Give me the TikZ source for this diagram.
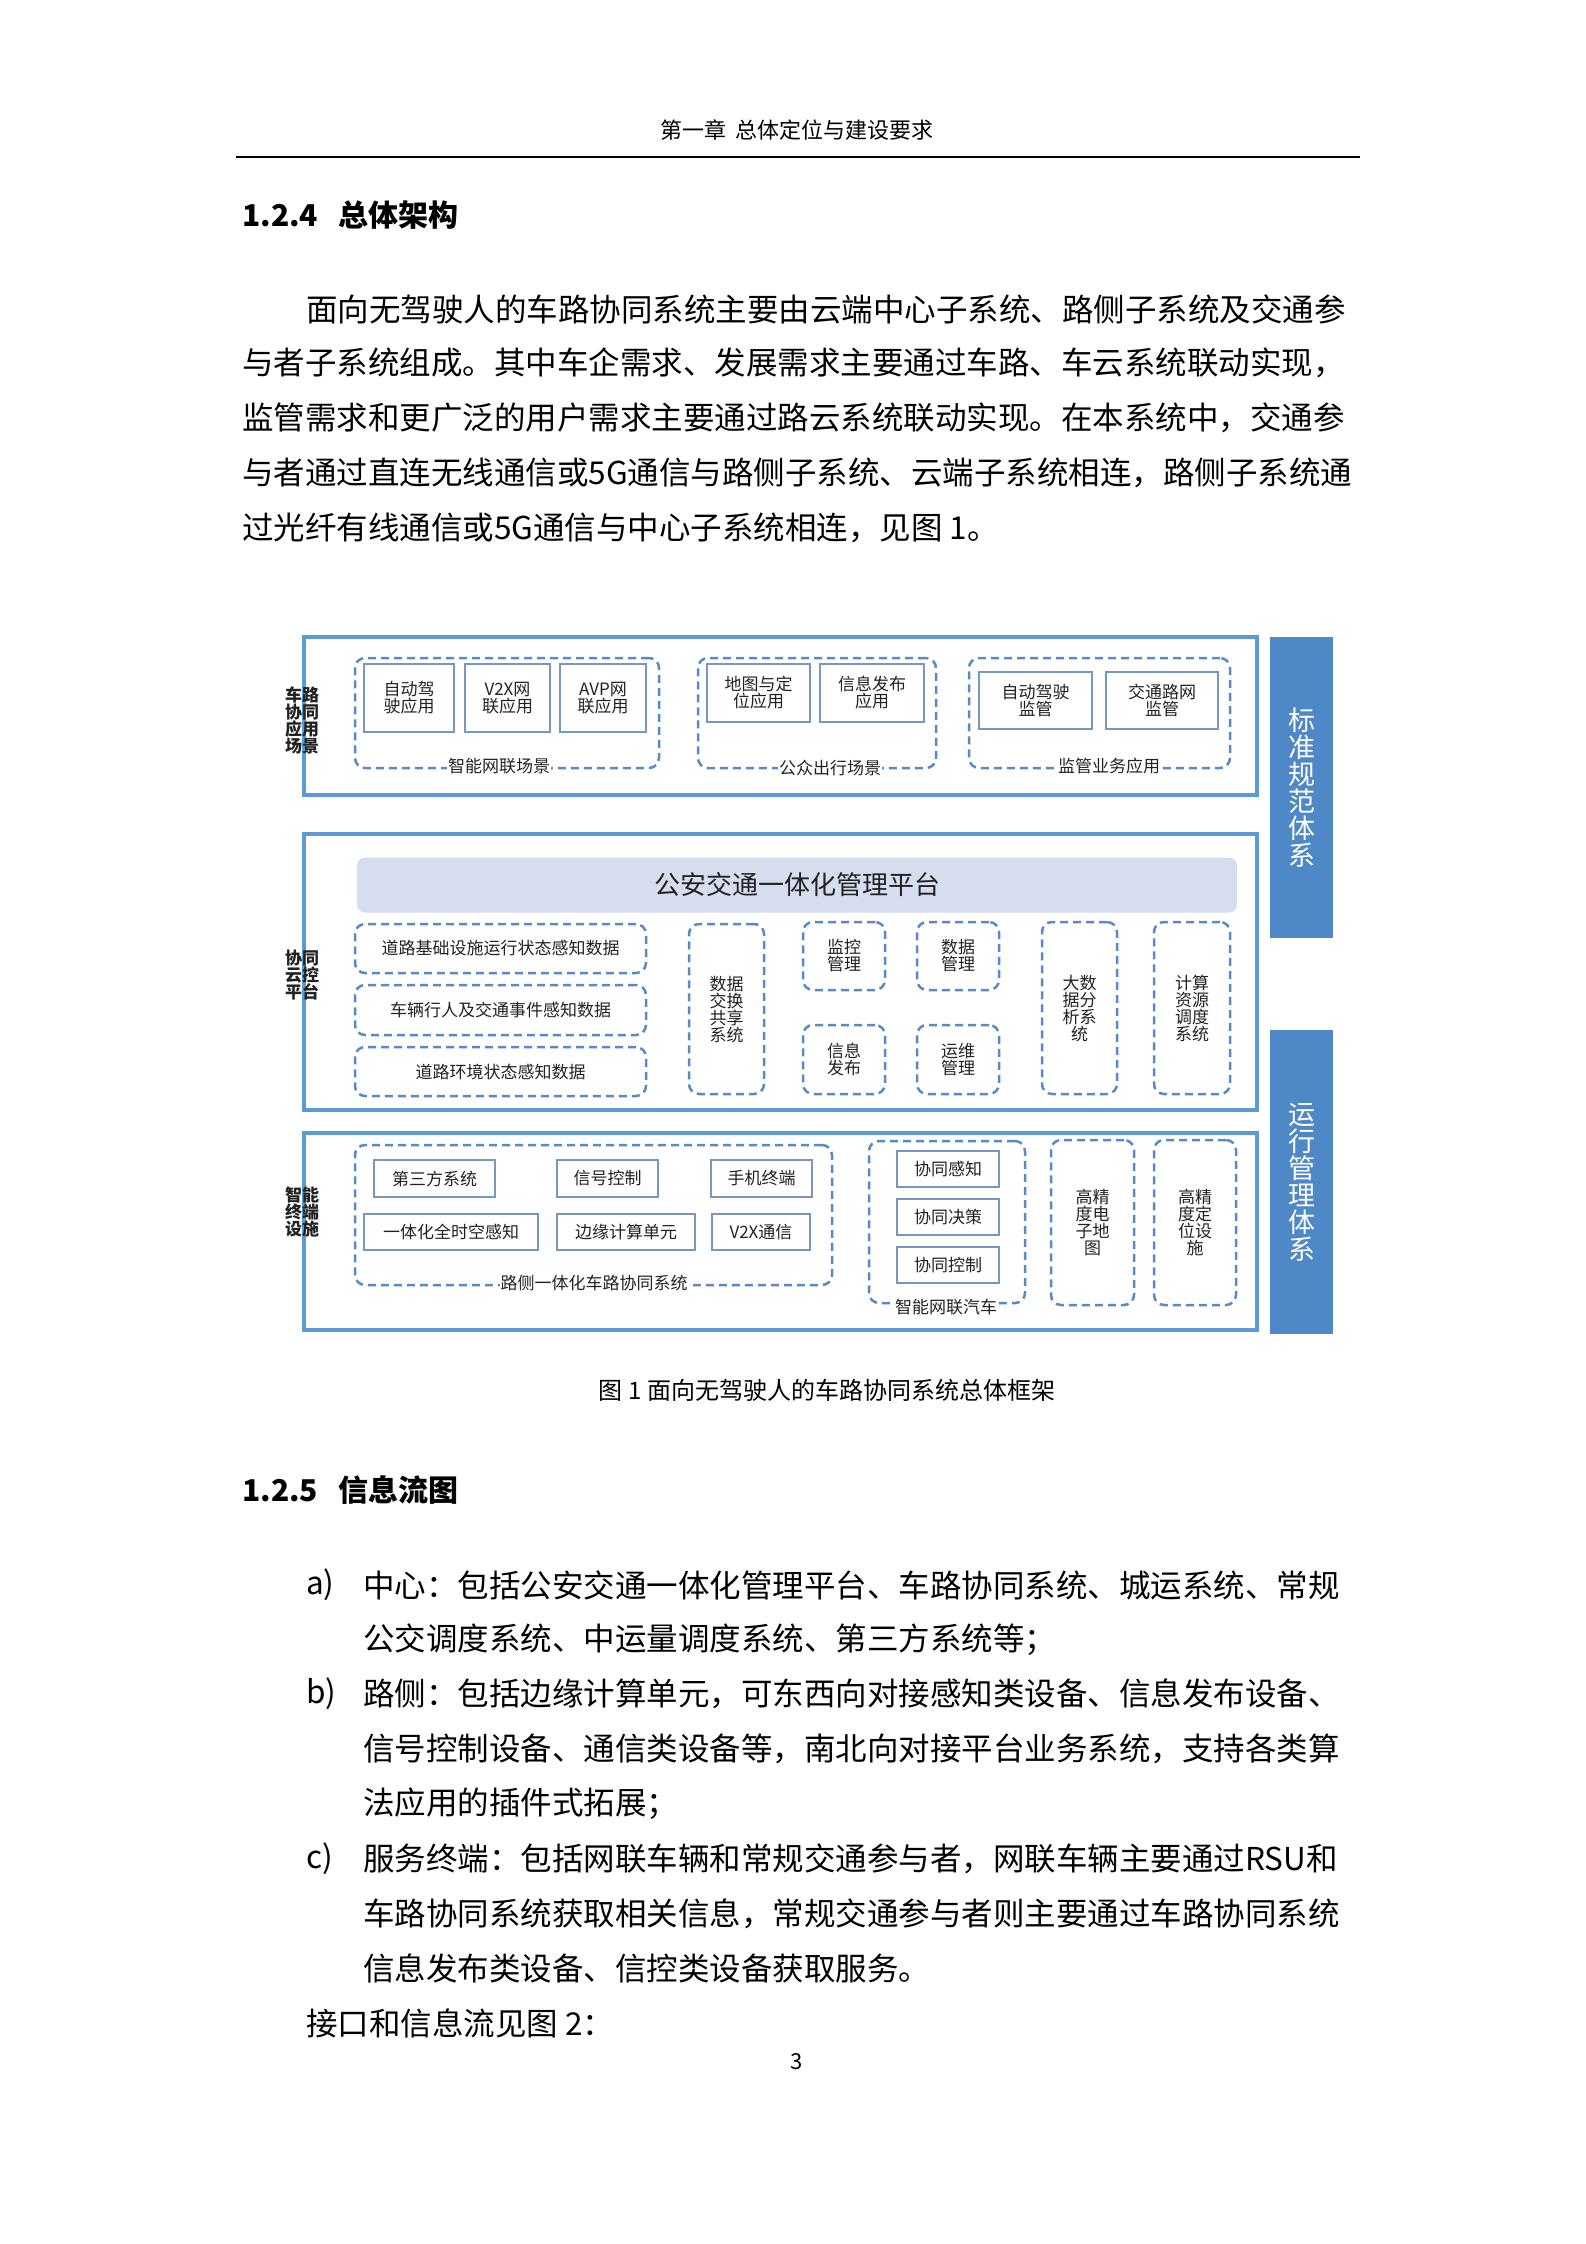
\documentclass[tikz,border=0pt]{standalone}
\usepackage{fontspec}
\setmainfont{Noto Sans CJK SC}
\definecolor{bord}{HTML}{5B9BD5}
\definecolor{colbar}{HTML}{4F88C6}
\definecolor{dash}{HTML}{5A8AC6}
\definecolor{inb}{HTML}{7896C0}
\definecolor{plat}{HTML}{D5DDEE}
\definecolor{txt}{HTML}{222222}
\newcommand\fs[1]{\fontsize{#1}{#1}\selectfont}
\newcommand\bx[7]{\node[#6,minimum width=#4pt-#2pt,minimum height=#5pt-#3pt] (#1) at ({(#2+#4)/2},{(#3+#5)/2}) {#7};}
\tikzset{
 base/.style={inner sep=0pt,align=center,text=txt},
 outer/.style={base,draw=bord,line width=4pt},
 dgrp/.style={base,draw=dash,dashed,dash pattern=on 8pt off 5pt,line width=2.5pt,rounded corners=10pt},
 ibox/.style={base,draw=inb,line width=2.2pt,fill=white,font=\fs{17}},
 dsm/.style={dgrp,font=\fs{17}},
 bar/.style={base,fill=colbar,text=white,font=\fs{27}},
 side/.style={inner sep=0pt,align=center,font=\bfseries\fs{17},text=txt},
 glab/.style={inner sep=1pt,fill=white,font=\fs{17},text=txt},
 body/.style={inner sep=0pt,anchor=west,font=\fs{31.5},text=black},
}
\begin{document}
\begin{tikzpicture}[x=1pt,y=-1pt]
\useasboundingbox[fill=white] (0,0) rectangle (1586,2244);
% header
\node[inner sep=0pt,font=\fs{22}] (hdr) at (797,130) {第一章\ \ 总体定位与建设要求};
\coordinate (hl) at (236,157); \coordinate (hr) at (1360,157);
\draw[line width=1.5pt] (hl) -- (hr);
\node[body,font=\bfseries\fs{30}] (h124) at (242,215) {1.2.4\ \ \ 总体架构};
\node[body] (p1) at (306,309) {面向无驾驶人的车路协同系统主要由云端中心子系统、路侧子系统及交通参};
\node[body] (p2) at (242,363) {与者子系统组成。其中车企需求、发展需求主要通过车路、车云系统联动实现，};
\node[body] (p3) at (242,418) {监管需求和更广泛的用户需求主要通过路云系统联动实现。在本系统中，交通参};
\node[body] (p4) at (242,473) {与者通过直连无线通信或5G通信与路侧子系统、云端子系统相连，路侧子系统通};
\node[body] (p5) at (242,528) {过光纤有线通信或5G通信与中心子系统相连，见图 1。};
% diagram outer boxes
\bx{top}{304}{637}{1257}{795}{outer}{}
\bx{mid}{304}{834}{1257}{1110}{outer}{}
\bx{bot}{304}{1133}{1257}{1330}{outer}{}
\bx{std}{1270}{637}{1333}{938}{bar}{标\\准\\规\\范\\体\\系}
\bx{ops}{1270}{1030}{1333}{1334}{bar}{运\\行\\管\\理\\体\\系}
\node[side] (l1) at (302,720) {车路\\协同\\应用\\场景};
\node[side] (l2) at (302,975) {协同\\云控\\平台};
\node[side] (l3) at (302,1212) {智能\\终端\\设施};
% top groups
\bx{g1}{355}{658}{659}{768}{dgrp}{}
\bx{g2}{698}{658}{936}{768}{dgrp}{}
\bx{g3}{969}{658}{1230}{768}{dgrp}{}
\node[glab] at (499,766) {智能网联场景};
\node[glab] at (830,768) {公众出行场景};
\node[glab] at (1109,766) {监管业务应用};
\bx{a1}{364}{664}{454}{732}{ibox}{自动驾\\驶应用}
\bx{a2}{465}{664}{550}{732}{ibox}{V2X网\\联应用}
\bx{a3}{560}{664}{646}{732}{ibox}{AVP网\\联应用}
\bx{a4}{707}{664}{810}{722}{ibox}{地图与定\\位应用}
\bx{a5}{820}{664}{924}{722}{ibox}{信息发布\\应用}
\bx{a6}{979}{672}{1092}{729}{ibox}{自动驾驶\\监管}
\bx{a7}{1106}{672}{1218}{729}{ibox}{交通路网\\监管}
% middle
\node[base,fill=plat,rounded corners=8pt,minimum width=880pt,minimum height=55pt,font=\fs{26}] (plat) at (797,885) {公安交通一体化管理平台};
\bx{r1}{355}{924}{646}{973}{dsm}{道路基础设施运行状态感知数据}
\bx{r2}{355}{985}{646}{1035}{dsm}{车辆行人及交通事件感知数据}
\bx{r3}{355}{1047}{646}{1096}{dsm}{道路环境状态感知数据}
\bx{m1}{689}{924}{764}{1094}{dsm}{数据\\交换\\共享\\系统}
\bx{m2}{803}{922}{885}{990}{dsm}{监控\\管理}
\bx{m3}{917}{922}{999}{990}{dsm}{数据\\管理}
\bx{m4}{803}{1025}{885}{1094}{dsm}{信息\\发布}
\bx{m5}{917}{1025}{999}{1094}{dsm}{运维\\管理}
\bx{m6}{1042}{922}{1117}{1094}{dsm}{大数\\据分\\析系\\统}
\bx{m7}{1154}{922}{1230}{1094}{dsm}{计算\\资源\\调度\\系统}
% bottom
\bx{g4}{355}{1145}{832}{1285}{dgrp}{}
\node[glab] at (594,1283) {路侧一体化车路协同系统};
\bx{b1}{374}{1160}{495}{1197}{ibox}{第三方系统}
\bx{b2}{557}{1160}{658}{1197}{ibox}{信号控制}
\bx{b3}{711}{1160}{812}{1197}{ibox}{手机终端}
\bx{b4}{364}{1214}{538}{1250}{ibox}{一体化全时空感知}
\bx{b5}{557}{1214}{695}{1250}{ibox}{边缘计算单元}
\bx{b6}{712}{1214}{810}{1250}{ibox}{V2X通信}
\bx{g5}{869}{1141}{1025}{1303}{dgrp}{}
\node[glab] at (946,1307) {智能网联汽车};
\bx{c1}{897}{1151}{999}{1187}{ibox}{协同感知}
\bx{c2}{897}{1199}{999}{1235}{ibox}{协同决策}
\bx{c3}{897}{1247}{999}{1283}{ibox}{协同控制}
\bx{c4}{1051}{1140}{1134}{1305}{dsm}{高精\\度电\\子地\\图}
\bx{c5}{1154}{1140}{1236}{1305}{dsm}{高精\\度定\\位设\\施}
\node[inner sep=0pt,font=\fs{24}] (cap) at (827,1390) {图 1 面向无驾驶人的车路协同系统总体框架};
% section 1.2.5
\node[body,font=\bfseries\fs{30}] (h125) at (242,1490) {1.2.5\ \ \ 信息流图};
\node[body] (la) at (306,1585) {a)};
\node[body] (a1t) at (363,1585) {中心：包括公安交通一体化管理平台、车路协同系统、城运系统、常规};
\node[body] (a2t) at (363,1640) {公交调度系统、中运量调度系统、第三方系统等；};
\node[body] (lb) at (306,1694) {b)};
\node[body] (b1t) at (363,1694) {路侧：包括边缘计算单元，可东西向对接感知类设备、信息发布设备、};
\node[body] (b2t) at (363,1749) {信号控制设备、通信类设备等，南北向对接平台业务系统，支持各类算};
\node[body] (b3t) at (363,1804) {法应用的插件式拓展；};
\node[body] (lc) at (306,1859) {c)};
\node[body] (c1t) at (363,1859) {服务终端：包括网联车辆和常规交通参与者，网联车辆主要通过RSU和};
\node[body] (c2t) at (363,1914) {车路协同系统获取相关信息，常规交通参与者则主要通过车路协同系统};
\node[body] (c3t) at (363,1968) {信息发布类设备、信控类设备获取服务。};
\node[body] (end) at (306,2023) {接口和信息流见图 2：};
\node[inner sep=0pt,font=\fs{22}] (pg) at (797,2062) {3};
\end{tikzpicture}
\end{document}
